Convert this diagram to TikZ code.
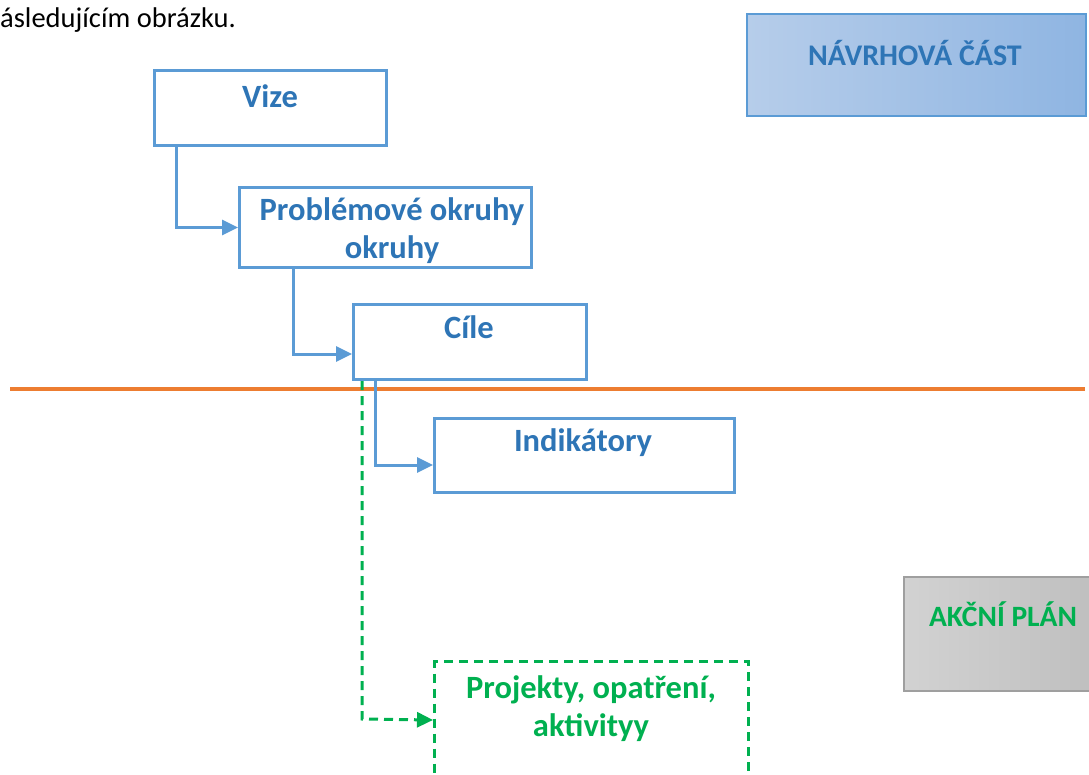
\documentclass[tikz,border=0pt]{standalone}
\usepackage{fontspec}
\setmainfont{Carlito}
\usetikzlibrary{calc,arrows.meta}
\definecolor{bluebox}{HTML}{5B9BD5}
\definecolor{bluetext}{HTML}{2E75B6}
\definecolor{orangeline}{HTML}{ED7D31}
\definecolor{greenx}{HTML}{00B050}
\definecolor{gradA}{HTML}{B6CDEA}
\definecolor{gradB}{HTML}{8FB5E2}
\definecolor{grayA}{HTML}{D2D2D2}
\definecolor{grayB}{HTML}{BEBEBE}
\tikzset{
  box/.style={draw=bluebox, line width=3pt, fill=white, inner sep=0pt, anchor=north west},
  lbl/.style={font=\fontsize{32.5}{38}\selectfont\bfseries, text=bluetext, align=center, inner sep=0pt},
  conn/.style={draw=bluebox, line width=3pt, -{Triangle[length=16pt,width=15pt]}},
  gconn/.style={draw=greenx, line width=3pt, dash pattern=on 9pt off 6pt, -{Triangle[length=16pt,width=15pt]}},
}
\begin{document}
\begin{tikzpicture}[x=1pt,y=-1pt]
\useasboundingbox (0,0) rectangle (1089,775);
\clip (0,0) rectangle (1089,775);
% top text
\node[anchor=base west, inner sep=0pt, font=\fontsize{28.5}{34}\selectfont] (intro) at (0,28) {ásledujícím obrázku.};
% right side boxes
\node[anchor=north west, inner sep=0pt, minimum width=339pt, minimum height=102pt, draw=bluebox, line width=2pt, left color=gradA, right color=gradB] (navrh) at (746,13) {};
\node[lbl, font=\fontsize{30}{36}\selectfont\bfseries] (navrht) at (915,53) {NÁVRHOVÁ ČÁST};
\node[anchor=north west, inner sep=0pt, minimum width=200pt, minimum height=114pt, draw=gray!75, line width=2pt, left color=grayA, right color=grayB] (akce) at (903,576) {};
\node[lbl, font=\fontsize{29.5}{36}\selectfont\bfseries, text=greenx] (akcet) at (1003,614) {AKČNÍ PLÁN};
% orange line
\coordinate (oL) at (10,389);
\coordinate (oR) at (1085,389);
\draw[orangeline, line width=4pt] (oL) -- (oR);
% blue boxes
\node[box, minimum width=232pt, minimum height=75pt] (vize) at (153,69) {};
\node[lbl] (vizet) at (270,96) {Vize};
\node[box, minimum width=292pt, minimum height=80pt] (prob) at (238,186) {};
\node[lbl] (probt) at (392,231) {Problémové okruhy\\okruhy};
\node[box, minimum width=233pt, minimum height=75pt] (cile) at (352,303) {};
\node[lbl] (cilet) at (469,327) {Cíle};
\node[box, minimum width=300pt, minimum height=74pt] (indik) at (433,417) {};
\node[lbl] (indikt) at (583,443) {Indikátory};
% green dashed box
\node[anchor=north west, inner sep=0pt, minimum width=314pt, minimum height=140pt, draw=greenx, line width=3pt, dash pattern=on 9pt off 6pt] (proj) at (433,660) {};
\node[lbl, text=greenx] (projt) at (591,709) {Projekty, opatření,\\aktivityy};
% connectors
\draw[conn] ($(vize.south west)+(23,0)$) |- (prob.west);
\draw[conn] ($(prob.south west)+(55,0)$) |- ($(cile.south west)+(0,-27)$);
\draw[conn] ($(cile.south west)+(23,0)$) |- ($(indik.south west)+(0,-29)$);
\draw[gconn] ($(cile.south west)+(10,0)$) -- ++(0,338) -- ($(proj.north west)+(0,60)$);
\end{tikzpicture}
\end{document}
